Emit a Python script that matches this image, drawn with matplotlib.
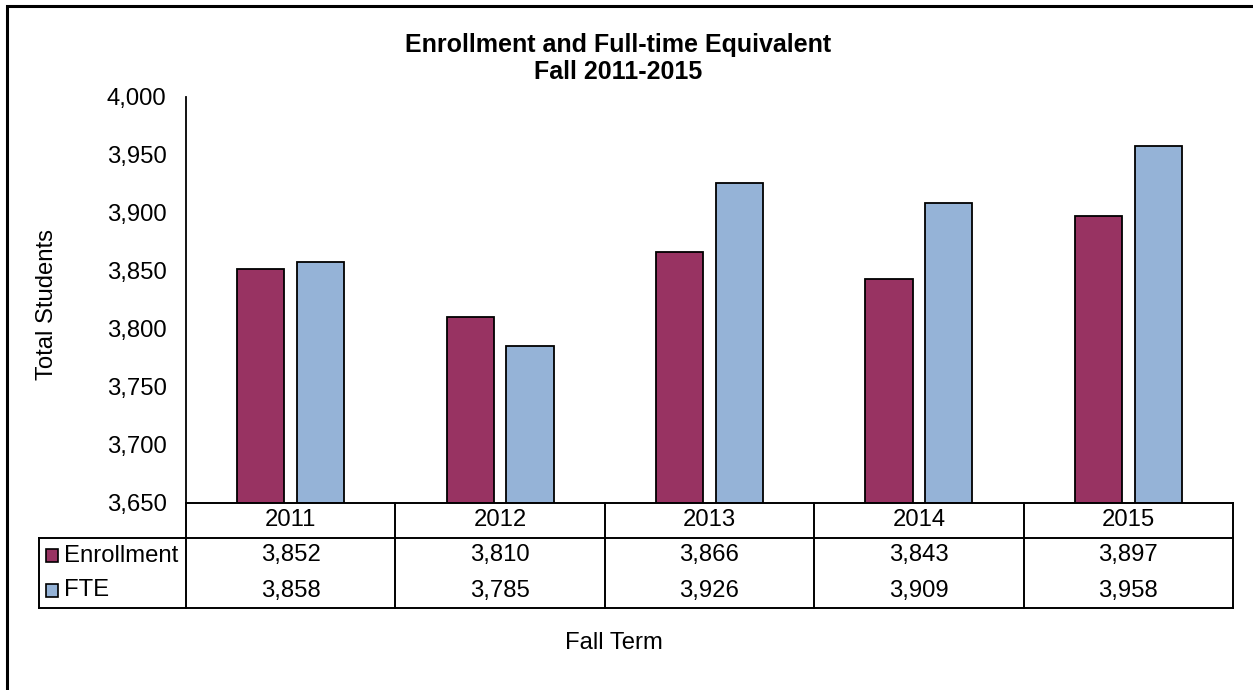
import matplotlib
matplotlib.use("Agg")
import matplotlib.pyplot as plt
from matplotlib.patches import Rectangle
import numpy as np

plt.rcParams['font.family'] = ['Liberation Sans', 'DejaVu Sans']

# data
years = ["2011", "2012", "2013", "2014", "2015"]
series_names = ["Enrollment", "FTE"]
enrollment = [3852, 3810, 3866, 3843, 3897]
fte = [3858, 3785, 3926, 3909, 3958]
y_ticks = [3650, 3700, 3750, 3800, 3850, 3900, 3950, 4000]

colors = ["#983362", "#95B3D7"]
fs = 17.2

W, H = 1253, 690
fig = plt.figure(figsize=(W / 100, H / 100), dpi=100)

# outer chart border (left/top visible, the rest is cropped)
fig.add_artist(Rectangle((7 / W, -0.05), 1.2, (H - 6) / H + 0.05, transform=fig.transFigure,
                         fill=False, edgecolor="black", linewidth=2.2))

# plot area in pixels
left, right, top, bottom = 186, 1233, 97, 503
ax = fig.add_axes([left / W, (H - bottom) / H, (right - left) / W, (bottom - top) / H])

x = np.arange(len(years))
bw = 0.225
off = 0.143
ax.bar(x - off, enrollment, bw, color=colors[0], edgecolor="black", linewidth=1.3)
ax.bar(x + off, fte, bw, color=colors[1], edgecolor="black", linewidth=1.3)

ax.set_xlim(-0.5, len(years) - 0.5)
ax.set_ylim(y_ticks[0], y_ticks[-1])
ax.set_yticks(y_ticks)
ax.set_yticklabels([f"{v:,}" for v in y_ticks], fontsize=fs)
ax.tick_params(axis="y", length=0, pad=14)
ax.set_xticks([])
for s in ["top", "right", "bottom"]:
    ax.spines[s].set_visible(False)
ax.spines["left"].set_linewidth(1.3)
ax.set_ylabel("Total Students", fontsize=fs, va="center")
ax.yaxis.set_label_coords((47 - left) / (right - left), (bottom - 305) / (bottom - top))

# data table below the plot
t_left, t_bottom = 39, 608
tax = fig.add_axes([t_left / W, (H - t_bottom) / H, (right - t_left) / W, (t_bottom - bottom) / H])
col_w = (right - left) / len(years)
x_lo = -0.5 - (left - t_left) / col_w
tax.set_xlim(x_lo, len(years) - 0.5)
tax.set_ylim(3, 0)
tax.axis("off")
lw = 1.4
kw = dict(color="black", linewidth=lw, solid_capstyle="projecting", clip_on=False)
tax.plot([-0.5, len(years) - 0.5], [0, 0], **kw)
tax.plot([x_lo, len(years) - 0.5], [1, 1], **kw)
tax.plot([x_lo, len(years) - 0.5], [3, 3], **kw)
tax.plot([x_lo, x_lo], [1, 3], **kw)
for i in range(len(years) + 1):
    tax.plot([i - 0.5, i - 0.5], [0, 3], **kw)

for i, yr in enumerate(years):
    tax.text(i, 0.5, yr, ha="center", va="center", fontsize=fs)
    tax.text(i, 1.5, f"{enrollment[i]:,}", ha="center", va="center", fontsize=fs)
    tax.text(i, 2.5, f"{fte[i]:,}", ha="center", va="center", fontsize=fs)

sq_w = 12 / col_w
for r, (name, c) in enumerate(zip(series_names, colors)):
    tax.add_patch(Rectangle((x_lo + 7 / col_w, 1.5 + r - 0.19), sq_w, 0.38,
                            facecolor=c, edgecolor="black", linewidth=1.2, clip_on=False))
    tax.text(x_lo + 25 / col_w, 1.5 + r, name, ha="left", va="center", fontsize=fs)

# titles
fig.text(618 / W, 1 - 45 / H, "Enrollment and Full-time Equivalent", ha="center", va="center",
         fontsize=18, fontweight="bold")
fig.text(618 / W, 1 - 72 / H, "Fall 2011-2015", ha="center", va="center",
         fontsize=18, fontweight="bold")
fig.text(614 / W, 1 - 643 / H, "Fall Term", ha="center", va="center", fontsize=fs)

fig.savefig("out.png", dpi=100, facecolor="white")
